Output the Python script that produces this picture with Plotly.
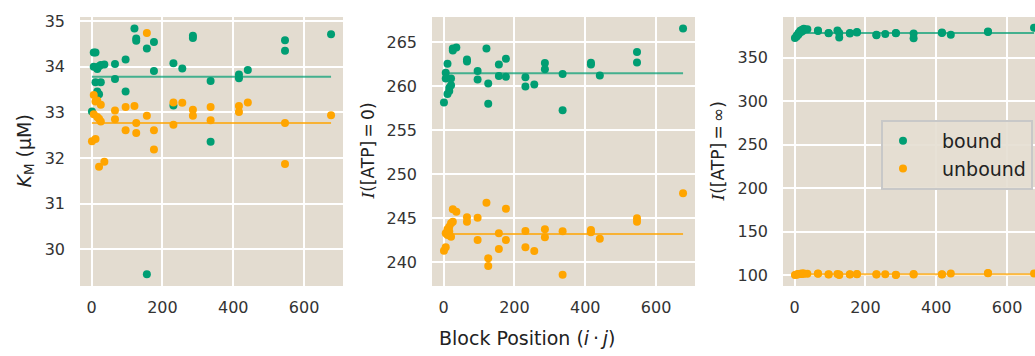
import plotly.graph_objects as go

# Block positions (i·j) shared by every panel
block_pos = [1, 6, 6, 11, 11, 16, 16, 21, 21, 26, 26, 36, 66, 66, 96, 96, 121, 126, 126,
             156, 156, 176, 176, 231, 231, 256, 286, 286, 336, 336, 416, 416, 441, 546, 546, 676]

# Michaelis constant K_M (µM)
km_bound = [33.02, 34.00, 34.31, 34.31, 33.66, 33.95, 33.46, 33.40, 34.01, 33.66, 34.04, 34.05,
            34.06, 33.73, 34.16, 33.46, 34.84, 34.62, 34.57, 34.40, 29.46, 34.54, 33.91,
            34.08, 33.15, 33.96, 34.68, 34.63, 33.69, 32.36, 33.83, 33.75, 33.93, 34.58, 34.35, 34.71]
km_unbound = [32.37, 33.38, 32.96, 32.42, 33.24, 32.90, 33.26, 31.81, 32.86, 33.17, 32.80, 31.92,
              33.04, 32.85, 33.12, 32.61, 33.14, 32.77, 32.55, 34.74, 32.93, 32.61, 32.19,
              33.22, 32.73, 33.21, 33.06, 32.93, 33.12, 32.83, 33.14, 33.01, 33.22, 32.77, 31.87, 32.94]

# Intensity at [ATP] = 0
i0_bound = [258.18, 261.55, 260.90, 262.57, 259.13, 259.47, 259.84, 260.15, 260.90, 264.09, 264.32, 264.43,
            263.07, 262.84, 261.77, 260.80, 264.32, 260.34, 258.02, 262.50, 261.20, 263.14, 261.09,
            261.06, 260.00, 260.23, 262.68, 261.97, 261.43, 257.30, 262.70, 262.50, 261.25, 263.93, 262.73, 266.59]
i0_unbound = [241.32, 243.30, 241.70, 243.75, 243.10, 244.05, 243.50, 244.43, 242.91, 244.61, 246.02, 245.75,
              245.11, 244.61, 245.07, 242.53, 246.77, 240.45, 239.58, 243.30, 241.51, 246.09, 242.53,
              243.56, 241.70, 241.28, 243.75, 242.84, 243.52, 238.59, 243.67, 243.41, 242.68, 245.00, 244.61, 247.84]

# Intensity at saturating ATP
iinf_bound = [372.7, 375.7, 374.5, 378.5, 376.8, 381.0, 379.5, 382.3, 380.2, 383.4, 382.0, 382.8,
              381.3, 380.8, 378.5, 378.2, 381.5, 378.5, 373.4, 378.5, 377.8, 379.8, 379.2,
              376.5, 376.0, 377.3, 378.6, 378.1, 378.0, 372.5, 379.0, 378.4, 376.5, 380.3, 379.8, 384.5]
iinf_unbound = [100.3, 100.8, 101.0, 101.3, 101.5, 101.8, 101.6, 102.0, 101.7, 101.9, 102.1, 101.8,
                102.0, 101.7, 101.3, 101.0, 101.5, 100.8, 100.3, 101.2, 100.9, 101.5, 101.2,
                101.2, 101.0, 101.3, 100.6, 100.4, 101.4, 101.0, 101.2, 101.0, 102.0, 102.7, 102.4, 102.2]

# Fitted constant level for each panel and state
level_bound = [33.78, 261.51, 378.5]
level_unbound = [32.77, 243.22, 101.2]

GREEN = "#009E73"
ORANGE = "#FFA500"
BG = "#E3DCD0"
FONT = "DejaVu Sans"

W, H = 1035, 356
L, R, T, B = 80, 0, 17, 70
PW, PH = W - L - R, H - T - B


def px_x(p):
    return (p - L) / PW


def px_y(p):
    return 1 - (p - T) / PH


panels = [
    dict(dom=(80, 343), xr=[-32.75, 709.75], yr=[29.2, 35.09], dt=1, tick0=30,
         b=km_bound, u=km_unbound),
    dict(dom=(432, 695), xr=[-32.75, 709.75], yr=[237.3, 267.9], dt=5, tick0=240,
         b=i0_bound, u=i0_unbound),
    dict(dom=(783, 1035), xr=[-32.75, -32.75 + 252 / 0.3542], yr=[87.7, 396.9], dt=50, tick0=100,
         b=iinf_bound, u=iinf_unbound),
]

fig = go.Figure()
xline = [min(block_pos), max(block_pos)]

for k, p in enumerate(panels):
    sfx = "" if k == 0 else str(k + 1)
    xa, ya = "x" + sfx, "y" + sfx
    fig.add_trace(go.Scatter(x=xline, y=[level_bound[k]] * 2, mode="lines", xaxis=xa, yaxis=ya,
                             line=dict(color=GREEN, width=2), opacity=0.7, showlegend=False,
                             hoverinfo="skip"))
    fig.add_trace(go.Scatter(x=xline, y=[level_unbound[k]] * 2, mode="lines", xaxis=xa, yaxis=ya,
                             line=dict(color=ORANGE, width=2), opacity=0.75, showlegend=False,
                             hoverinfo="skip"))
    fig.add_trace(go.Scatter(x=block_pos, y=p["b"], mode="markers", xaxis=xa, yaxis=ya,
                             marker=dict(color=GREEN, size=8), name="\u2002\u2002bound",
                             showlegend=(k == 2), legendrank=1))
    fig.add_trace(go.Scatter(x=block_pos, y=p["u"], mode="markers", xaxis=xa, yaxis=ya,
                             marker=dict(color=ORANGE, size=8), name="\u2002\u2002unbound",
                             showlegend=(k == 2), legendrank=2))

    axis_common = dict(showgrid=True, gridcolor="white", gridwidth=1.5, zeroline=False,
                       showline=False, ticks="", tickfont=dict(family=FONT, size=16, color="#333333"))
    fig.layout["xaxis" + sfx] = dict(domain=[px_x(p["dom"][0]), px_x(p["dom"][1])],
                                     range=p["xr"], tickmode="linear", tick0=0, dtick=200,
                                     anchor=ya, ticklabelstandoff=10, **axis_common)
    fig.layout["yaxis" + sfx] = dict(domain=[0, 1], range=p["yr"], tickmode="linear",
                                     tick0=p["tick0"], dtick=p["dt"], anchor=xa,
                                     ticklabelstandoff=14, **axis_common)

serif = "font-family:'DejaVu Serif'"
ytitles = [
    (25, "<i>K</i><sub>M</sub> (µM)", 19),
    (367, f"<span style=\"{serif}\"><i>I</i></span>([ATP]\u2009=\u20090)", 17),
    (717, f"<span style=\"{serif}\"><i>I</i></span>([ATP]\u2009=\u2009∞)", 17),
]
annotations = []
for xp, txt, fs in ytitles:
    annotations.append(dict(text=txt, xref="paper", yref="paper", x=px_x(xp), y=0.5,
                            xanchor="center", yanchor="middle", textangle=-90, showarrow=False,
                            font=dict(family=FONT, size=fs, color="#222222")))
annotations.append(dict(text="Block Position (<i>i</i>\u2009·\u2009<i>j</i>)", xref="paper", yref="paper",
                        x=px_x(527), y=px_y(338), xanchor="center", yanchor="middle",
                        showarrow=False, font=dict(family=FONT, size=19, color="#222222")))

fig.update_layout(
    width=W, height=H,
    margin=dict(l=L, r=R, t=T, b=B),
    paper_bgcolor="white",
    plot_bgcolor=BG,
    annotations=annotations,
    showlegend=True,
    legend=dict(x=px_x(881), y=px_y(120), xanchor="left", yanchor="top",
                bgcolor="rgba(228,222,210,0.9)", bordercolor="#C8C8C8", borderwidth=2,
                font=dict(family=FONT, size=19, color="#222222"), itemsizing="trace",
                tracegroupgap=0),
)

fig.write_html("out.html")
